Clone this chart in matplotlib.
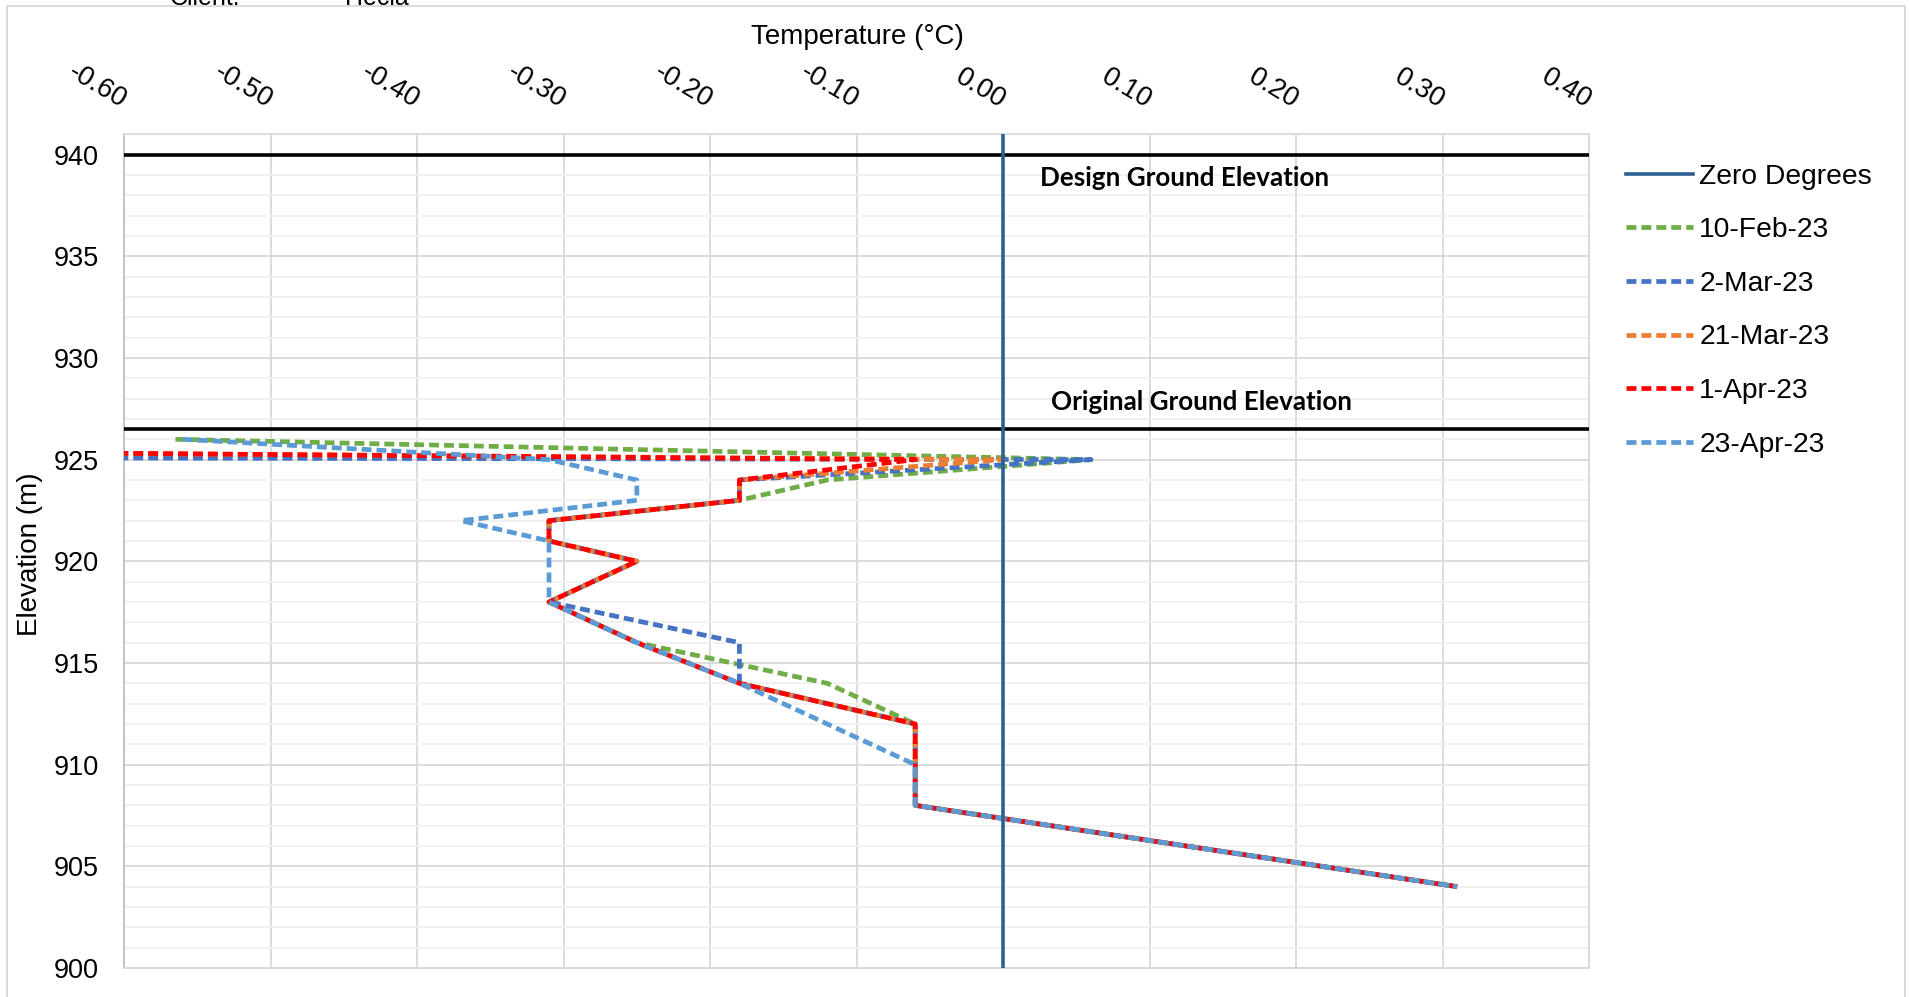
import matplotlib
matplotlib.use("Agg")
import matplotlib.pyplot as plt
from matplotlib.lines import Line2D
from matplotlib.patches import Rectangle

plt.rcParams['font.family'] = ['Liberation Sans', 'DejaVu Sans']

# ---------------- data ----------------
elevations = [926, 925, 924, 923, 922, 921, 920, 918, 916, 914, 912, 910, 908, 904]

feb10 = [-0.565, 0.06, -0.12, -0.18, -0.31, -0.31, -0.25, -0.31, -0.25, -0.12, -0.06, -0.06, -0.06, 0.31]
mar02 = [-8.2, 0.06, -0.18, -0.18, -0.31, -0.31, -0.25, -0.31, -0.18, -0.18, -0.06, -0.06, -0.06, 0.31]
mar21 = [-2.0, 0.0, -0.18, -0.18, -0.31, -0.31, -0.25, -0.31, -0.25, -0.18, -0.06, -0.06, -0.06, 0.31]
apr01 = [-1.8, -0.06, -0.18, -0.18, -0.31, -0.31, -0.25, -0.31, -0.25, -0.18, -0.06, -0.06, -0.06, 0.31]
apr23 = [-0.56, -0.31, -0.25, -0.25, -0.37, -0.31, -0.31, -0.31, -0.25, -0.18, -0.12, -0.06, -0.06, 0.31]

series_names = ['10-Feb-23', '2-Mar-23', '21-Mar-23', '1-Apr-23', '23-Apr-23']
series_colors = ['#70AD47', '#4472C4', '#ED7D31', '#FF0000', '#5B9BD5']

zero_temp = [0.0, 0.0]
zero_elev = [900, 941]

design_ground = 940
original_ground = 926.5

x_ticks = [-0.6, -0.5, -0.4, -0.3, -0.2, -0.1, 0.0, 0.1, 0.2, 0.3, 0.4]
x_labels = ['-0.60', '-0.50', '-0.40', '-0.30', '-0.20', '-0.10', '0.00', '0.10', '0.20', '0.30', '0.40']
y_ticks = [900, 905, 910, 915, 920, 925, 930, 935, 940]

# ---------------- figure ----------------
W, H = 1909, 997
fig = plt.figure(figsize=(W / 100, H / 100), dpi=100)
fig.patch.set_facecolor('white')

left, right = 124.2, 1589.0
top, bottom = 134.3, 968.0
ax = fig.add_axes([left / W, 1 - bottom / H, (right - left) / W, (bottom - top) / H])

ax.set_xlim(-0.6, 0.4)
ax.set_ylim(900, 941)

ax.set_yticks(y_ticks)
ax.set_yticks(range(900, 942), minor=True)
ax.set_xticks(x_ticks)

ax.grid(which='major', color='#D9D9D9', lw=1.3, zorder=0)
ax.grid(which='minor', axis='y', color='#F0F0F0', lw=1.3, zorder=0)
ax.set_axisbelow(True)

for s in ['top', 'right', 'bottom']:
    ax.spines[s].set_color('#D9D9D9')
    ax.spines[s].set_linewidth(1.3)
ax.spines['left'].set_color('#BFBFBF')
ax.spines['left'].set_linewidth(1.3)

ax.xaxis.tick_top()
ax.tick_params(which='both', length=0)
ax.tick_params(axis='y', labelsize=19.5, pad=18.5)
ax.tick_params(axis='x', labelsize=19.8, pad=23)
ax.set_xticklabels(x_labels, rotation=-31, ha='right', va='center', rotation_mode='anchor')

# data series
lw_s = 3.4
dash = (0, (2.1, 1.06))
zcol = '#2C5F93'
handles = []
ax.plot(zero_temp, zero_elev, color=zcol, lw=2.6, zorder=6, solid_capstyle='butt')
handles.append(Line2D([], [], color=zcol, lw=2.6, label='Zero Degrees'))

all_series = [feb10, mar02, mar21, apr01, apr23]
for name, col, vals in zip(series_names, series_colors, all_series):
    ax.plot(vals, elevations, color=col, lw=lw_s, linestyle=dash, zorder=4)
    handles.append(Line2D([], [], color=col, lw=lw_s, linestyle=dash, label=name))

ax.axhline(design_ground, color='black', lw=2.6, zorder=5)
ax.axhline(original_ground, color='black', lw=2.6, zorder=5)

ax.text(0.025, 938.86, 'Design Ground Elevation', fontsize=18.7, fontweight='bold',
        family=['Lato', 'DejaVu Sans'], ha='left', va='center', zorder=7)
ax.text(0.0326, 927.84, 'Original Ground Elevation', fontsize=18.7, fontweight='bold',
        family=['Lato', 'DejaVu Sans'], ha='left', va='center', zorder=7)

# axis titles
fig.text(857 / W, 1 - 36.5 / H, 'Temperature (°C)', fontsize=20, ha='center', va='center')
fig.text(30 / W, 1 - 554 / H, 'Elevation (m)', fontsize=20, ha='center', va='center', rotation=90)

# legend
leg = fig.legend(handles=handles, loc='upper left', bbox_to_anchor=(1625.7 / W, 1 - 163.5 / H),
                 bbox_transform=fig.transFigure, frameon=False, fontsize=20.3,
                 handlelength=2.4, handletextpad=0.21, labelspacing=0.98,
                 borderpad=0, borderaxespad=0)

# chart-area border and cut-off header text
fig.patches.append(Rectangle((7 / W, -0.01), (1905 - 7) / W, 1.01 - 6 / H, fill=False,
                             edgecolor='#D9D9D9', lw=1.3, transform=fig.transFigure))
fig.text(170 / W, 1 - 5 / H, 'Client:', fontsize=18, ha='left', va='baseline')
fig.text(345 / W, 1 - 5 / H, 'Hecla', fontsize=18, ha='left', va='baseline')

fig.savefig('out.png', dpi=100, facecolor='white')
